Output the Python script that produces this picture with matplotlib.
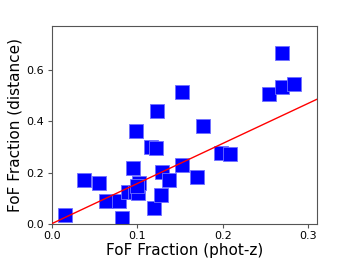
import matplotlib
matplotlib.use("Agg")
import matplotlib.pyplot as plt
import numpy as np

x_phot = [0.016, 0.038, 0.055, 0.063, 0.079, 0.082, 0.089, 0.095, 0.098, 0.097,
          0.101, 0.102, 0.100, 0.116, 0.122, 0.123, 0.119, 0.128, 0.129, 0.137,
          0.152, 0.152, 0.170, 0.177, 0.198, 0.208, 0.254, 0.269, 0.269, 0.283]
y_dist = [0.034, 0.169, 0.158, 0.090, 0.089, 0.022, 0.122, 0.216, 0.364, 0.125,
          0.119, 0.160, 0.147, 0.301, 0.296, 0.440, 0.061, 0.112, 0.202, 0.171,
          0.229, 0.516, 0.184, 0.382, 0.275, 0.271, 0.506, 0.535, 0.668, 0.546]
fit_x = [0.0, 0.31]
fit_slope = 1.57

fig = plt.figure(figsize=(3.52, 2.64), dpi=100)
ax = fig.add_axes([0.147, 0.1527, 0.7536, 0.7488])
ax.scatter(x_phot, y_dist, marker='s', s=112, color='blue', edgecolors='#7070ff', linewidths=0.6, zorder=2)
fx = np.array(fit_x)
ax.plot(fx, fit_slope * fx, color='red', lw=1.0, zorder=3)
ax.set_xlim(0, 0.31)
ax.set_ylim(0, 0.773)
ax.set_xticks([0.0, 0.1, 0.2, 0.3])
ax.set_yticks([0.0, 0.2, 0.4, 0.6])
ax.tick_params(labelsize=8, color='#555555', length=3, pad=2.5)
for sp in ax.spines.values():
    sp.set_color('#555555')
ax.set_xlabel('FoF Fraction (phot-z)', fontsize=11, labelpad=1)
ax.set_ylabel('FoF Fraction (distance)', fontsize=11, labelpad=3)
fig.savefig('out.png', dpi=100)
